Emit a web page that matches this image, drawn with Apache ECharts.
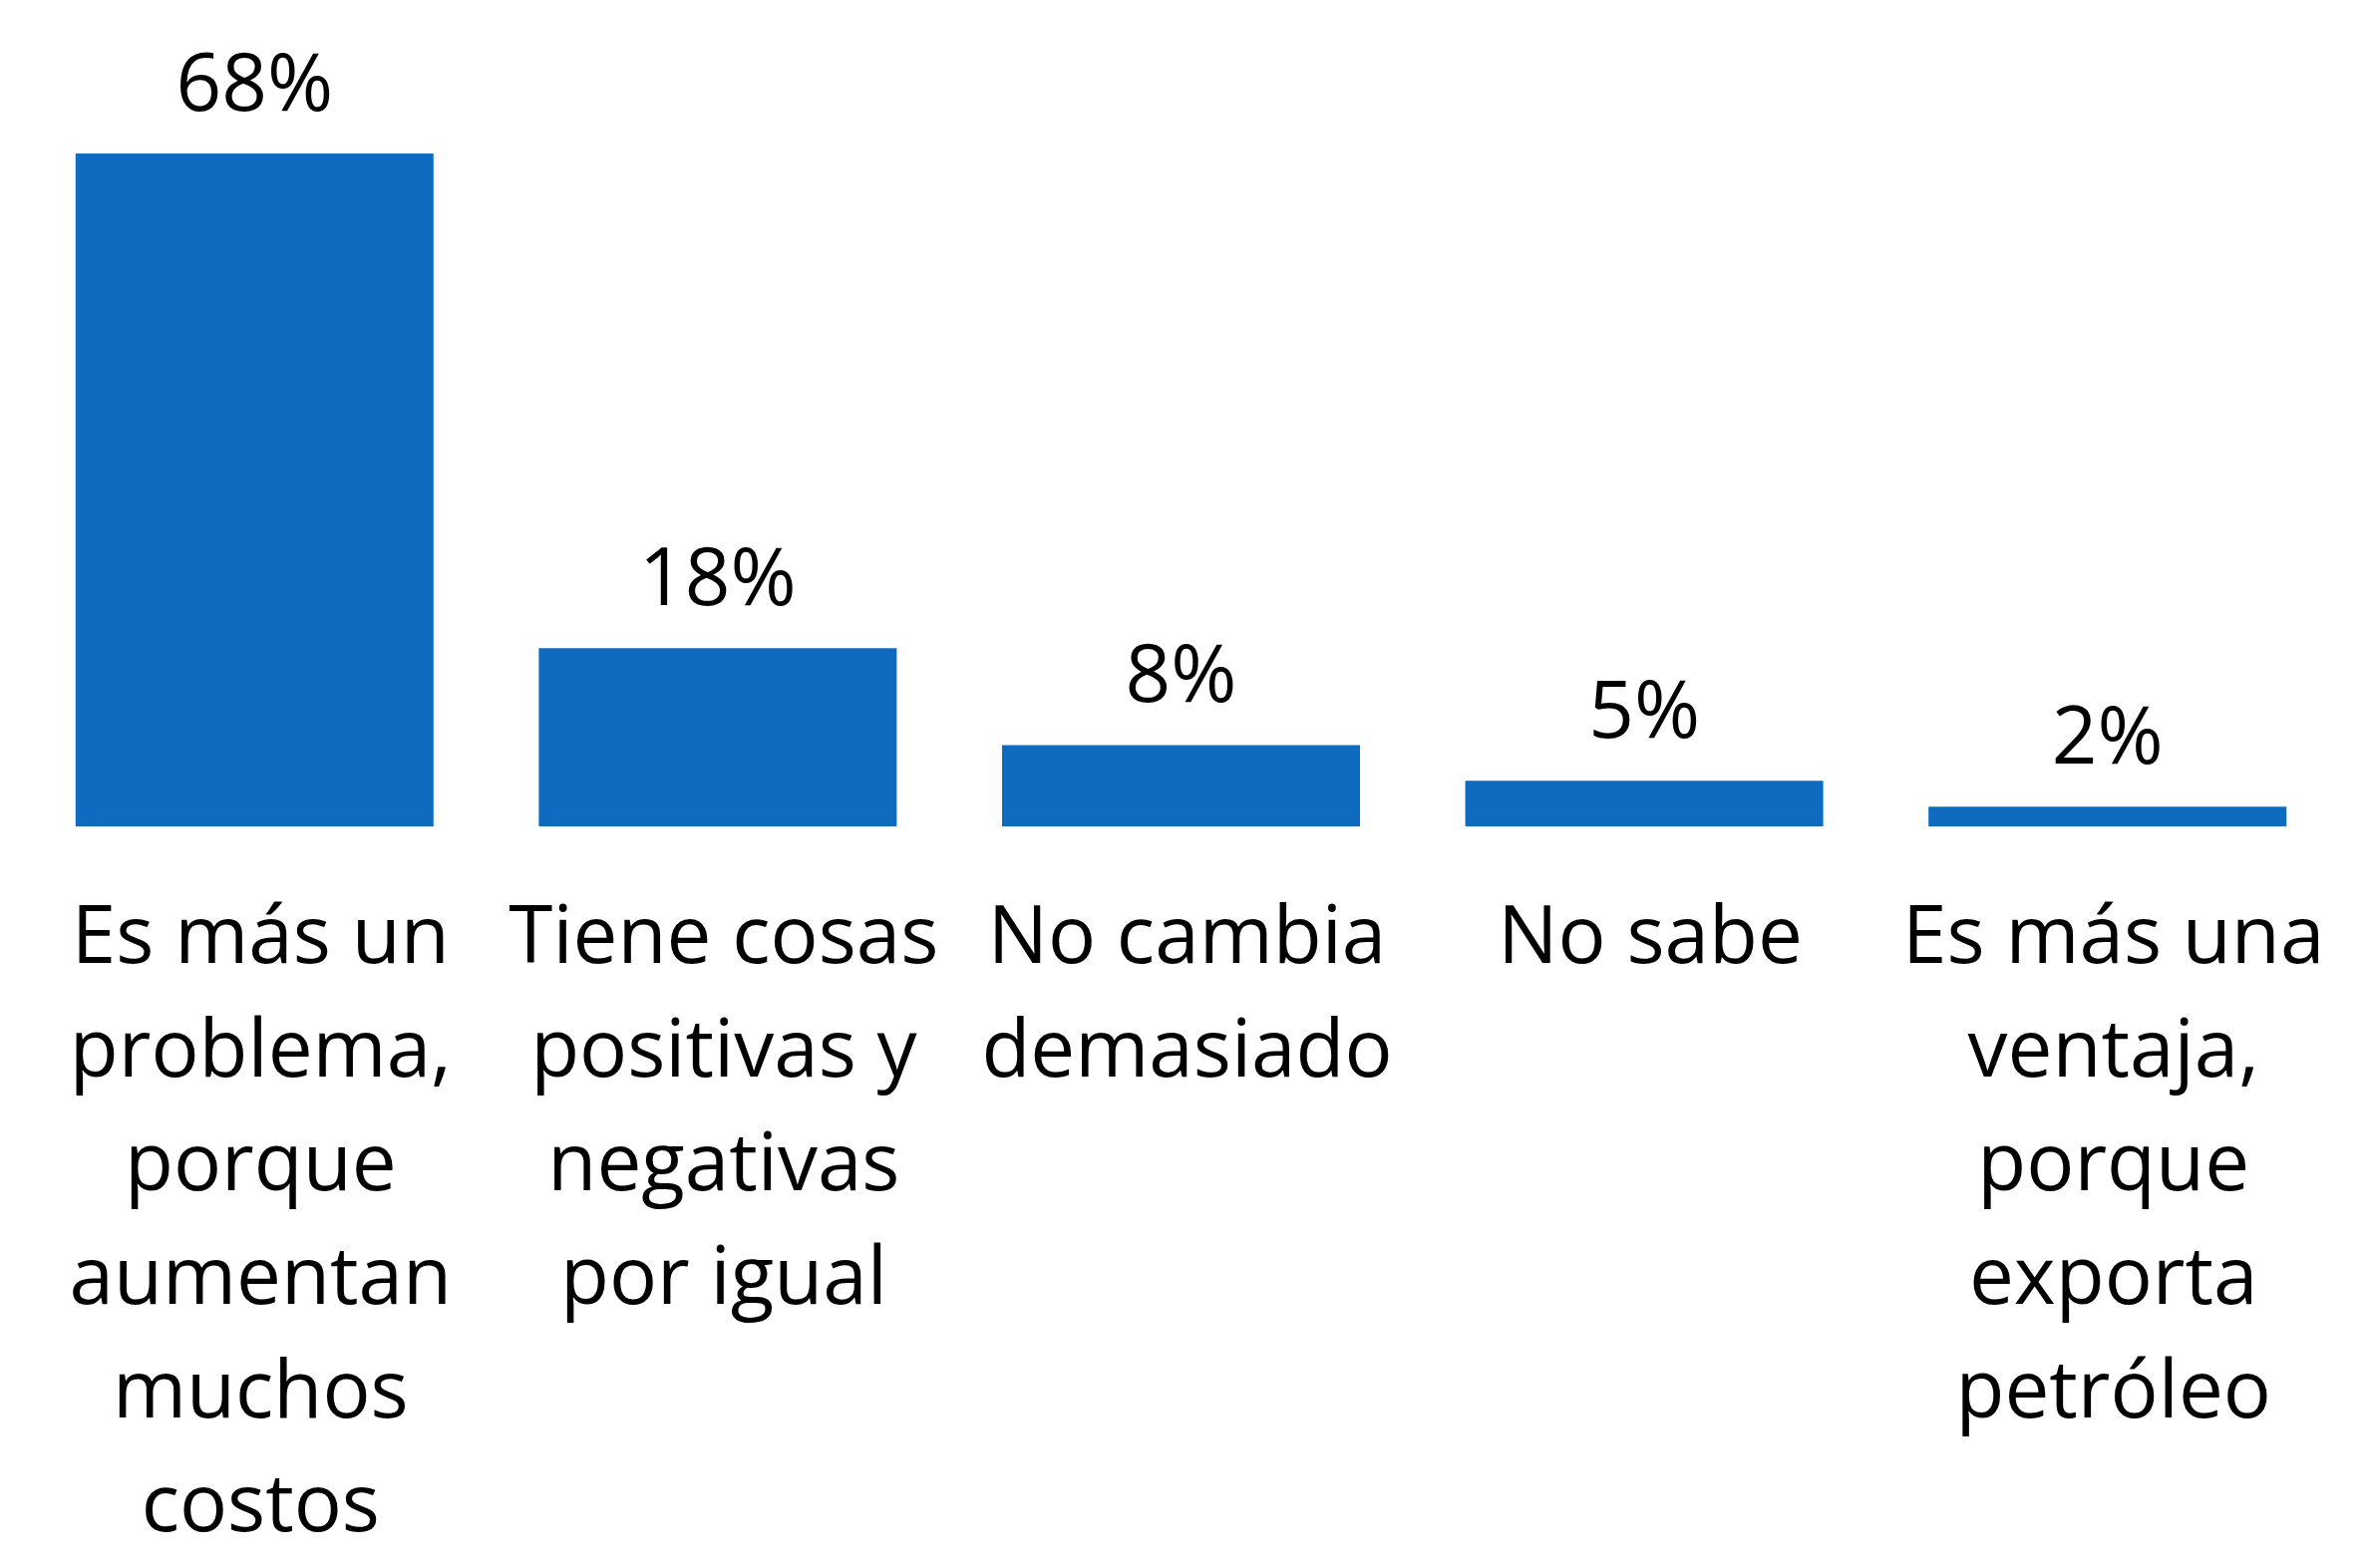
<!DOCTYPE html>
<html>
<head>
<meta charset="utf-8">
<script src="https://cdn.jsdelivr.net/npm/echarts@6/dist/echarts.min.js"></script>
<style>
  html, body { margin: 0; padding: 0; background: #fff; }
  #chart { width: 2377px; height: 1573px; }
</style>
</head>
<body>
<div id="chart"></div>
<script>
// categories, with line breaks as in the original
const categories = [
  'Es más un\nproblema,\nporque\naumentan\nmuchos\ncostos',
  'Tiene cosas\npositivas y\nnegativas\npor igual',
  'No cambia\ndemasiado',
  'No sabe',
  'Es más una\nventaja,\nporque\nexporta\npetróleo'
];
// bar heights (labels show rounded %)
const values = [68, 18, 8.2, 4.6, 2];

const chart = echarts.init(document.getElementById('chart'));
const font = '"Open Sans", "Noto Sans", sans-serif';

chart.setOption({
  animation: false,
  grid: { left: 23, right: 31, top: 154, bottom: 744 },
  xAxis: {
    type: 'category',
    data: categories,
    axisLine: { show: false },
    axisTick: { show: false },
    axisLabel: {
      interval: 0,
      margin: 57,
      padding: [0, 0, 0, 12],
      color: '#000',
      fontFamily: font,
      fontSize: 80,
      lineHeight: 114
    }
  },
  yAxis: {
    type: 'value',
    min: 0,
    max: 68,
    show: false,
    splitLine: { show: false }
  },
  series: [
    {
      type: 'bar',
      data: values,
      barWidth: 359,
      itemStyle: { color: '#0F6BC0' },
      label: {
        show: true,
        position: 'top',
        distance: 26,
        color: '#000',
        fontFamily: font,
        fontSize: 80,
        lineHeight: 80,
        formatter: p => Math.round(p.value) + '%'
      }
    }
  ]
});
</script>
</body>
</html>
